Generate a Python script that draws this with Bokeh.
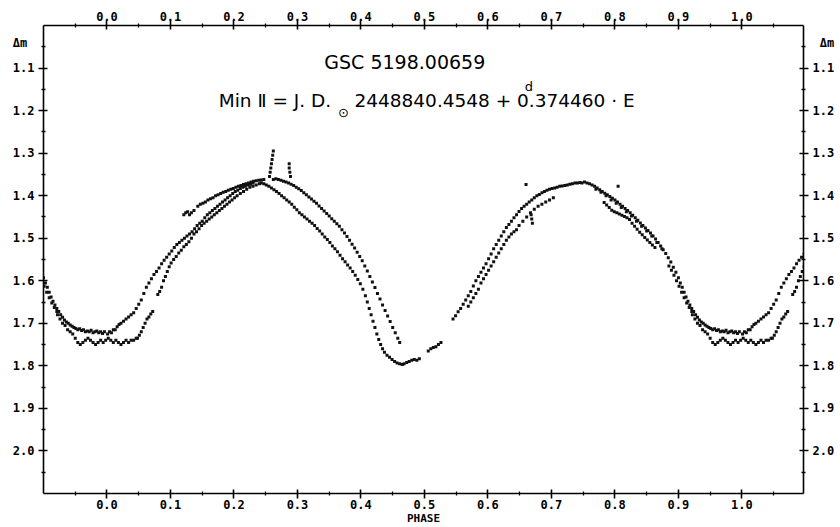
from bokeh.plotting import figure
from bokeh.models import Range1d, LinearAxis, FixedTicker, Label
from bokeh.embed import file_html
from bokeh.resources import INLINE
import numpy as np

# ---------------- axis ticks ----------------
x_ticks = [0.0, 0.1, 0.2, 0.3, 0.4, 0.5, 0.6, 0.7, 0.8, 0.9, 1.0]
x_tick_labels = ["0.0", "0.1", "0.2", "0.3", "0.4", "0.5", "0.6", "0.7", "0.8", "0.9", "1.0"]
x_minor = [-0.05, 0.05, 0.15, 0.25, 0.35, 0.45, 0.55, 0.65, 0.75, 0.85, 0.95, 1.05]
y_ticks = [1.1, 1.2, 1.3, 1.4, 1.5, 1.6, 1.7, 1.8, 1.9, 2.0]
y_tick_labels = ["1.1", "1.2", "1.3", "1.4", "1.5", "1.6", "1.7", "1.8", "1.9", "2.0"]
y_minor = [1.05, 1.15, 1.25, 1.35, 1.45, 1.55, 1.65, 1.75, 1.85, 1.95, 2.05]
y_unit_pos = 1.04
y_unit_label = "\u0394m"
x_title = "PHASE"

# ---------------- observations (phase in [0,1), delta m) ----------------
floor_up_phase = [0.001, 0.004, 0.007, 0.010, 0.013, 0.016, 0.019]
floor_up_dm = [1.725, 1.72, 1.722, 1.715, 1.715, 1.708, 1.703]

rise_up_phase = [0.022, 0.026, 0.030, 0.034, 0.038, 0.042, 0.046, 0.050, 0.054, 0.058,
                 0.062, 0.066, 0.070, 0.074, 0.078, 0.082, 0.086, 0.090, 0.094, 0.098,
                 0.102, 0.106, 0.110, 0.114, 0.118, 0.122, 0.126, 0.130, 0.134, 0.138, 0.142]
rise_up_dm = [1.70, 1.695, 1.69, 1.685, 1.68, 1.675, 1.665, 1.655, 1.645, 1.63,
              1.615, 1.605, 1.595, 1.585, 1.578, 1.57, 1.56, 1.552, 1.545, 1.537,
              1.53, 1.522, 1.515, 1.51, 1.505, 1.50, 1.495, 1.49, 1.485, 1.478, 1.47]

hump_mid_phase = [0.146, 0.150, 0.154, 0.158, 0.162, 0.166, 0.170, 0.174, 0.178, 0.182, 0.186,
                  0.190, 0.194, 0.198, 0.202, 0.206, 0.210, 0.214, 0.218, 0.222, 0.226, 0.230]
hump_mid_dm = [1.465, 1.46, 1.452, 1.445, 1.44, 1.435, 1.43, 1.425, 1.42, 1.415, 1.41,
               1.405, 1.40, 1.395, 1.39, 1.387, 1.383, 1.38, 1.378, 1.375, 1.373, 1.37]

rise_low_phase = [0.048, 0.051, 0.054, 0.057, 0.060, 0.063, 0.066, 0.069, 0.072, 0.080,
                  0.083, 0.086, 0.089, 0.092, 0.095, 0.098, 0.101, 0.105, 0.109, 0.113,
                  0.117, 0.121, 0.125, 0.129, 0.133]
rise_low_dm = [1.735, 1.728, 1.72, 1.71, 1.70, 1.69, 1.685, 1.678, 1.672, 1.632,
               1.625, 1.615, 1.60, 1.59, 1.578, 1.567, 1.558, 1.55, 1.543, 1.535,
               1.528, 1.52, 1.515, 1.508, 1.50]

hump_low_phase = [0.137, 0.141, 0.145, 0.149, 0.153, 0.157, 0.161, 0.165, 0.169, 0.173,
                  0.177, 0.181, 0.185, 0.189, 0.193, 0.197, 0.201, 0.205, 0.210, 0.215,
                  0.220, 0.225, 0.230, 0.235, 0.240]
hump_low_dm = [1.49, 1.485, 1.478, 1.47, 1.465, 1.46, 1.455, 1.45, 1.445, 1.44,
               1.435, 1.43, 1.425, 1.42, 1.415, 1.41, 1.405, 1.40, 1.395, 1.39,
               1.385, 1.38, 1.378, 1.375, 1.372]

hump_top_phase = [0.121, 0.124, 0.127, 0.130, 0.133, 0.137, 0.143, 0.147, 0.151, 0.155, 0.159,
                  0.163, 0.167, 0.171, 0.175, 0.179, 0.183, 0.187, 0.191, 0.195, 0.199, 0.203,
                  0.207, 0.211, 0.215, 0.219, 0.223, 0.227, 0.231, 0.235, 0.239, 0.243, 0.247]
hump_top_dm = [1.445, 1.44, 1.438, 1.445, 1.44, 1.435, 1.425, 1.42, 1.418, 1.415, 1.41,
               1.407, 1.405, 1.40, 1.398, 1.395, 1.392, 1.39, 1.387, 1.385, 1.383, 1.38,
               1.378, 1.376, 1.374, 1.372, 1.37, 1.368, 1.366, 1.365, 1.364, 1.363, 1.362]

fall_left_phase = [0.243, 0.247, 0.251, 0.255, 0.259, 0.263, 0.267, 0.271, 0.275, 0.279,
                   0.283, 0.287, 0.291, 0.295, 0.299, 0.303, 0.307, 0.311, 0.315, 0.319,
                   0.323, 0.327, 0.331, 0.335, 0.339, 0.343, 0.347, 0.351, 0.355, 0.359,
                   0.363, 0.367, 0.371, 0.375, 0.379, 0.383, 0.387, 0.391, 0.395, 0.399,
                   0.403, 0.407, 0.410, 0.413, 0.416, 0.419, 0.422, 0.425, 0.428, 0.431,
                   0.434, 0.437, 0.441, 0.445, 0.449, 0.453, 0.457, 0.461, 0.465]
fall_left_dm = [1.37, 1.372, 1.375, 1.378, 1.382, 1.386, 1.39, 1.395, 1.40, 1.405,
                1.41, 1.415, 1.42, 1.427, 1.433, 1.44, 1.445, 1.45, 1.455, 1.46,
                1.465, 1.47, 1.477, 1.483, 1.49, 1.497, 1.503, 1.51, 1.518, 1.525,
                1.532, 1.54, 1.548, 1.555, 1.563, 1.57, 1.578, 1.587, 1.597, 1.607,
                1.62, 1.635, 1.65, 1.665, 1.68, 1.695, 1.71, 1.725, 1.738, 1.75,
                1.76, 1.768, 1.775, 1.78, 1.785, 1.79, 1.793, 1.795, 1.797]

fall_right_phase = [0.262, 0.266, 0.270, 0.274, 0.278, 0.282, 0.286, 0.290, 0.294, 0.298,
                    0.302, 0.306, 0.310, 0.314, 0.318, 0.322, 0.326, 0.330, 0.334, 0.338,
                    0.342, 0.346, 0.350, 0.354, 0.358, 0.362, 0.366, 0.370, 0.374, 0.378,
                    0.382, 0.386, 0.390, 0.394, 0.398, 0.402, 0.406, 0.410, 0.414, 0.418,
                    0.422, 0.426, 0.430, 0.434, 0.438, 0.442, 0.446, 0.450, 0.454, 0.458, 0.461]
fall_right_dm = [1.362, 1.36, 1.362, 1.364, 1.366, 1.368, 1.37, 1.373, 1.376, 1.38,
                 1.384, 1.388, 1.393, 1.398, 1.403, 1.408, 1.413, 1.418, 1.424, 1.43,
                 1.436, 1.442, 1.448, 1.454, 1.46, 1.466, 1.472, 1.48, 1.488, 1.496,
                 1.505, 1.514, 1.523, 1.533, 1.543, 1.553, 1.565, 1.577, 1.59, 1.603,
                 1.616, 1.63, 1.643, 1.657, 1.67, 1.683, 1.696, 1.71, 1.722, 1.735, 1.745]

spike_phase = [0.262, 0.261, 0.260, 0.259, 0.258, 0.257, 0.256, 0.287, 0.287, 0.288,
               0.289, 0.660, 0.668, 0.669, 0.670, 0.805]
spike_dm = [1.295, 1.305, 1.315, 1.325, 1.335, 1.345, 1.355, 1.325, 1.335, 1.345,
            1.355, 1.374, 1.445, 1.455, 1.465, 1.378]

min2_phase = [0.468, 0.472, 0.476, 0.480, 0.484, 0.488, 0.492, 0.506, 0.510, 0.514, 0.518, 0.522, 0.526]
min2_dm = [1.795, 1.792, 1.79, 1.787, 1.785, 1.787, 1.783, 1.765, 1.76, 1.757, 1.755, 1.75, 1.745]

rise2_up_phase = [0.545, 0.549, 0.553, 0.557, 0.561, 0.565, 0.569, 0.573, 0.577, 0.581,
                  0.585, 0.589, 0.593, 0.597, 0.601, 0.605, 0.609, 0.613, 0.617, 0.621,
                  0.625, 0.629, 0.633, 0.637, 0.641, 0.645, 0.649, 0.653, 0.657, 0.661,
                  0.665, 0.669, 0.673, 0.677, 0.681, 0.685, 0.689, 0.693, 0.697, 0.701,
                  0.705, 0.709, 0.713, 0.717, 0.721, 0.725]
rise2_up_dm = [1.69, 1.682, 1.673, 1.665, 1.655, 1.645, 1.635, 1.625, 1.612, 1.60,
               1.59, 1.58, 1.57, 1.56, 1.548, 1.537, 1.525, 1.515, 1.505, 1.495,
               1.485, 1.475, 1.468, 1.46, 1.452, 1.445, 1.437, 1.43, 1.425, 1.42,
               1.415, 1.41, 1.405, 1.40, 1.397, 1.393, 1.39, 1.387, 1.385, 1.383,
               1.382, 1.38, 1.378, 1.377, 1.376, 1.375]

rise2_low_phase = [0.569, 0.573, 0.577, 0.581, 0.585, 0.589, 0.593, 0.597, 0.601, 0.605,
                   0.609, 0.613, 0.617, 0.621, 0.625, 0.629, 0.633, 0.637, 0.641, 0.645,
                   0.649, 0.655, 0.661, 0.667, 0.673, 0.679, 0.685, 0.691, 0.697, 0.703]
rise2_low_dm = [1.66, 1.65, 1.64, 1.63, 1.62, 1.605, 1.595, 1.585, 1.575, 1.565,
                1.555, 1.545, 1.535, 1.525, 1.515, 1.505, 1.497, 1.49, 1.485, 1.48,
                1.47, 1.46, 1.45, 1.44, 1.432, 1.425, 1.42, 1.415, 1.41, 1.405]

peak2_phase = [0.729, 0.733, 0.737, 0.741, 0.745]
peak2_dm = [1.373, 1.372, 1.37, 1.37, 1.369]

desc_main_phase = [0.748, 0.752, 0.756, 0.760, 0.764, 0.768, 0.772, 0.776, 0.780, 0.784,
                   0.788, 0.792, 0.796, 0.800, 0.804, 0.808, 0.812, 0.816, 0.820, 0.824,
                   0.828, 0.832, 0.836, 0.840, 0.844, 0.848, 0.852, 0.856, 0.860, 0.864,
                   0.868, 0.872, 0.876, 0.880, 0.884, 0.888, 0.892, 0.896, 0.900,
                   0.903, 0.906, 0.909, 0.912, 0.915, 0.918, 0.921, 0.924, 0.927, 0.930,
                   0.933, 0.936, 0.939, 0.942, 0.945, 0.948, 0.951, 0.954, 0.957, 0.960,
                   0.963, 0.966, 0.969, 0.972, 0.975, 0.978, 0.981, 0.984, 0.987, 0.990,
                   0.993, 0.996]
desc_main_dm = [1.37, 1.368, 1.37, 1.372, 1.375, 1.378, 1.382, 1.386, 1.39, 1.394,
                1.398, 1.402, 1.406, 1.41, 1.415, 1.42, 1.425, 1.43, 1.435, 1.44,
                1.446, 1.452, 1.458, 1.464, 1.47, 1.476, 1.482, 1.488, 1.495, 1.502,
                1.51, 1.518, 1.527, 1.536, 1.546, 1.556, 1.568, 1.58, 1.593,
                1.605, 1.615, 1.627, 1.638, 1.648, 1.657, 1.665, 1.672, 1.68, 1.686,
                1.692, 1.697, 1.70, 1.704, 1.707, 1.71, 1.712, 1.715, 1.713, 1.717,
                1.715, 1.72, 1.718, 1.72, 1.716, 1.722, 1.72, 1.718, 1.722, 1.72,
                1.724, 1.72]

desc_b_phase = [0.770, 0.778, 0.786, 0.794, 0.802, 0.810, 0.818, 0.826, 0.834, 0.842, 0.850, 0.858, 0.866, 0.874]
desc_b_dm = [1.385, 1.392, 1.40, 1.41, 1.418, 1.428, 1.438, 1.448, 1.46, 1.472, 1.483, 1.495, 1.51, 1.525]

desc_low_phase = [0.783, 0.787, 0.791, 0.795, 0.799, 0.803, 0.807, 0.811, 0.815, 0.819, 0.823,
                  0.827, 0.831, 0.835, 0.839, 0.843, 0.847, 0.851, 0.855, 0.859, 0.863]
desc_low_dm = [1.416, 1.422, 1.428, 1.434, 1.438, 1.44, 1.443, 1.446, 1.449, 1.452, 1.456,
               1.465, 1.472, 1.479, 1.486, 1.492, 1.498, 1.504, 1.51, 1.516, 1.522]

desc_c_phase = [0.885, 0.889, 0.893, 0.897, 0.901, 0.905, 0.909, 0.913, 0.917, 0.921]
desc_c_dm = [1.565, 1.575, 1.587, 1.60, 1.613, 1.627, 1.64, 1.652, 1.663, 1.672]

floor_low_phase = [0.922, 0.926, 0.930, 0.934, 0.938, 0.942, 0.946, 0.950, 0.954, 0.958,
                   0.962, 0.966, 0.970, 0.974, 0.978, 0.982, 0.986, 0.990, 0.994, 0.998,
                   0.002, 0.006, 0.010, 0.014, 0.018, 0.022, 0.026, 0.030, 0.034, 0.038, 0.042, 0.046]
floor_low_dm = [1.68, 1.69, 1.70, 1.705, 1.715, 1.72, 1.725, 1.735, 1.745, 1.75,
                1.745, 1.74, 1.735, 1.74, 1.745, 1.75, 1.745, 1.74, 1.745, 1.74,
                1.735, 1.74, 1.745, 1.74, 1.745, 1.75, 1.745, 1.74, 1.745, 1.74, 1.74, 1.735]

phase_parts = [floor_up_phase, rise_up_phase, hump_mid_phase, rise_low_phase, hump_low_phase,
               hump_top_phase, fall_left_phase, fall_right_phase, spike_phase, min2_phase,
               rise2_up_phase, rise2_low_phase, peak2_phase, desc_main_phase, desc_b_phase,
               desc_low_phase, desc_c_phase, floor_low_phase]
dm_parts = [floor_up_dm, rise_up_dm, hump_mid_dm, rise_low_dm, hump_low_dm,
            hump_top_dm, fall_left_dm, fall_right_dm, spike_dm, min2_dm,
            rise2_up_dm, rise2_low_dm, peak2_dm, desc_main_dm, desc_b_dm,
            desc_low_dm, desc_c_dm, floor_low_dm]

ph = np.concatenate([np.asarray(a, float) for a in phase_parts])
dm = np.concatenate([np.asarray(a, float) for a in dm_parts])
# phase folding: repeat the ends of the cycle outside [0, 1)
hi = ph >= 0.9
lo = ph < 0.1
all_ph = np.concatenate([ph, ph[hi] - 1.0, ph[lo] + 1.0])
all_dm = np.concatenate([dm, dm[hi], dm[lo]])

# ---------------- figure ----------------
p = figure(width=840, height=527, output_backend="svg", toolbar_location=None,
           x_range=Range1d(-0.1, 1.097), y_range=Range1d(2.1, 1.0),
           min_border_left=43, min_border_right=37, min_border_top=25, min_border_bottom=34)
p.outline_line_color = None
p.grid.visible = False
p.background_fill_color = "white"
p.border_fill_color = "white"

p.scatter(all_ph, all_dm, marker="square", size=3.0, fill_color="#111111", line_color=None)

tick_font = "DejaVu Sans Mono"
tick_size = "12px"
x_over = {t: s for t, s in zip(x_ticks, x_tick_labels)}


def style_ticks(ax, ticks, minor):
    ax.ticker = FixedTicker(ticks=ticks, minor_ticks=minor)
    ax.axis_line_color = "black"
    ax.axis_line_width = 1.6
    ax.major_tick_line_color = "black"
    ax.major_tick_line_width = 1.6
    ax.minor_tick_line_color = "black"
    ax.minor_tick_line_width = 1.3
    ax.major_tick_in = 4
    ax.major_tick_out = 5
    ax.minor_tick_in = 2
    ax.minor_tick_out = 2


def style_labels(ax, over, standoff):
    ax.major_label_overrides = over
    ax.major_label_text_font = tick_font
    ax.major_label_text_font_style = "bold"
    ax.major_label_text_font_size = tick_size
    ax.major_label_text_color = "black"
    ax.major_label_standoff = standoff


# bottom axis with the PHASE title
bottom = p.xaxis[0]
style_ticks(bottom, x_ticks, x_minor)
style_labels(bottom, x_over, 1)
bottom.axis_label = x_title
bottom.axis_label_text_font = tick_font
bottom.axis_label_text_font_style = "bold"
bottom.axis_label_text_font_size = "11px"
bottom.axis_label_text_color = "black"
bottom.axis_label_standoff = 0

# top axis
top = LinearAxis()
style_ticks(top, x_ticks, x_minor)
style_labels(top, x_over, 0)
p.add_layout(top, "above")

# y axes: inner axis draws the line and ticks, outer axis carries the labels and "Δm"
blank_over = {t: "" for t in y_ticks}
left_lab_over = {y_unit_pos: y_unit_label + "\u00a0"}
left_lab_over.update({t: s for t, s in zip(y_ticks, y_tick_labels)})
right_lab_over = {y_unit_pos: "\u00a0" + y_unit_label}
right_lab_over.update({t: s for t, s in zip(y_ticks, y_tick_labels)})


def ticks_only(ax):
    style_ticks(ax, y_ticks, y_minor)
    ax.major_label_overrides = blank_over
    ax.major_label_text_font_size = "0px"
    ax.major_label_standoff = 0


def labels_only(ax, over):
    ax.ticker = FixedTicker(ticks=[y_unit_pos] + y_ticks, minor_ticks=[])
    ax.axis_line_color = None
    ax.major_tick_line_color = None
    ax.minor_tick_line_color = None
    ax.major_tick_in = 0
    ax.major_tick_out = 0
    ax.minor_tick_in = 0
    ax.minor_tick_out = 0
    style_labels(ax, over, 4)


ticks_only(p.yaxis[0])
left_labels = LinearAxis()
labels_only(left_labels, left_lab_over)
p.add_layout(left_labels, "left")

right_ticks = LinearAxis()
ticks_only(right_ticks)
p.add_layout(right_ticks, "right")
right_labels = LinearAxis()
labels_only(right_labels, right_lab_over)
p.add_layout(right_labels, "right")

# ---------------- texts ----------------
main_font = "DejaVu Sans"


def lab(x, y, text, size, align="left"):
    p.add_layout(Label(x=x, y=y, text=text, text_font=main_font, text_font_size=size,
                       text_align=align, text_baseline="middle", text_color="black"))


lab(0.469, 1.085, "GSC 5198.00659", "19px", align="center")
lab(0.176, 1.176, "Min \u2161 = J. D.", "18.5px")
lab(0.3724, 1.204, "\u2299", "13px", align="center")
lab(0.3898, 1.176, "2448840.4548 + 0.374460 \u00b7 E", "18.5px")
lab(0.6644, 1.143, "d", "13px", align="center")

open("out.html", "w").write(file_html(p, INLINE))
